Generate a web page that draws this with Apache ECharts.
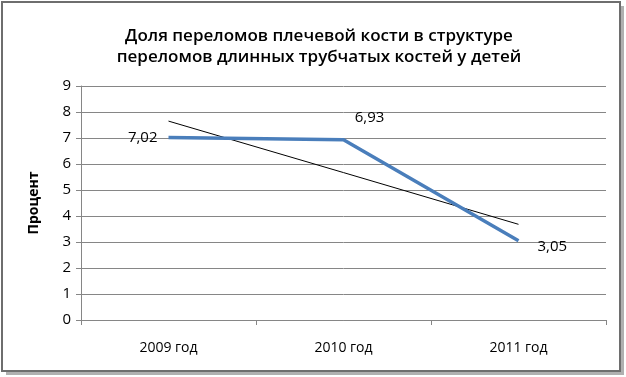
<!DOCTYPE html>
<html>
<head>
    <meta charset="utf-8">
    <script src="https://cdn.jsdelivr.net/npm/echarts@6/dist/echarts.min.js"></script>
    <style>
        body { margin: 0; background: #fff; }
    </style>
</head>
<body>
    <div id="main" style="width: 626px;height:377px;"></div>
    <script type="text/javascript">
        // данные с картинки
        var years = ['2009 год', '2010 год', '2011 год'];
        var share = [7.02, 6.93, 3.05];
        // линейный тренд (как в Excel)
        var trend = [7.65, 5.67, 3.68];
        var yTicks = [0, 1, 2, 3, 4, 5, 6, 7, 8, 9];

        var chart = echarts.init(document.getElementById('main'));

        var labelPos = ['left', 'top', 'right'];
        var labelOffset = [[-6, 0], [26, -10], [14, 6]];

        chart.setOption({
            animation: false,
            textStyle: { fontFamily: 'Open Sans' },
            title: {
                text: 'Доля переломов плечевой кости в структуре\nпереломов длинных трубчатых костей у детей',
                left: 314,
                top: 21,
                textAlign: 'center',
                textStyle: {
                    fontSize: 17,
                    fontWeight: 600,
                    color: '#000',
                    lineHeight: 21,
                    fontFamily: 'Open Sans'
                }
            },
            graphic: [
                {
                    type: 'rect',
                    shape: { x: 6, y: 6, width: 618, height: 369 },
                    style: { fill: '#b0b0b0' },
                    z: -2
                },
                {
                    type: 'rect',
                    shape: { x: 2, y: 2, width: 618, height: 369 },
                    style: { fill: '#fff', stroke: '#6e6e6e', lineWidth: 2 },
                    z: -1
                }
            ],
            grid: {
                left: 81,
                right: 20,
                top: 86,
                bottom: 57
            },
            xAxis: {
                type: 'category',
                data: years,
                boundaryGap: true,
                axisLine: { lineStyle: { color: '#868686' } },
                axisTick: { show: true, length: 5, lineStyle: { color: '#868686' } },
                axisLabel: { color: '#000', fontSize: 14, margin: 21 }
            },
            yAxis: {
                type: 'value',
                min: yTicks[0],
                max: yTicks[yTicks.length - 1],
                interval: 1,
                name: 'Процент',
                nameLocation: 'middle',
                nameGap: 40,
                nameTextStyle: { fontSize: 14, fontWeight: 'bold', color: '#000' },
                axisLine: { show: true, lineStyle: { color: '#868686' } },
                axisTick: { show: true, length: 5, inside: false, lineStyle: { color: '#868686' } },
                axisLabel: { color: '#000', fontSize: 15, margin: 10 },
                splitLine: { lineStyle: { color: '#868686', width: 1 } }
            },
            series: [
                {
                    name: 'Доля',
                    type: 'line',
                    data: share.map(function (v, i) {
                        return {
                            value: v,
                            label: { position: labelPos[i], offset: labelOffset[i] }
                        };
                    }),
                    symbol: 'circle',
                    symbolSize: 0,
                    showSymbol: true,
                    itemStyle: { color: '#4a7ebb' },
                    lineStyle: { color: '#4a7ebb', width: 3.5 },
                    label: {
                        show: true,
                        fontSize: 15,
                        color: '#000',
                        formatter: function (p) {
                            return p.value.toFixed(2).replace('.', ',');
                        }
                    },
                    z: 3
                },
                {
                    name: 'Тренд',
                    type: 'line',
                    data: trend,
                    symbol: 'none',
                    lineStyle: { color: '#000', width: 1 },
                    z: 2
                }
            ]
        });
    </script>
</body>
</html>
